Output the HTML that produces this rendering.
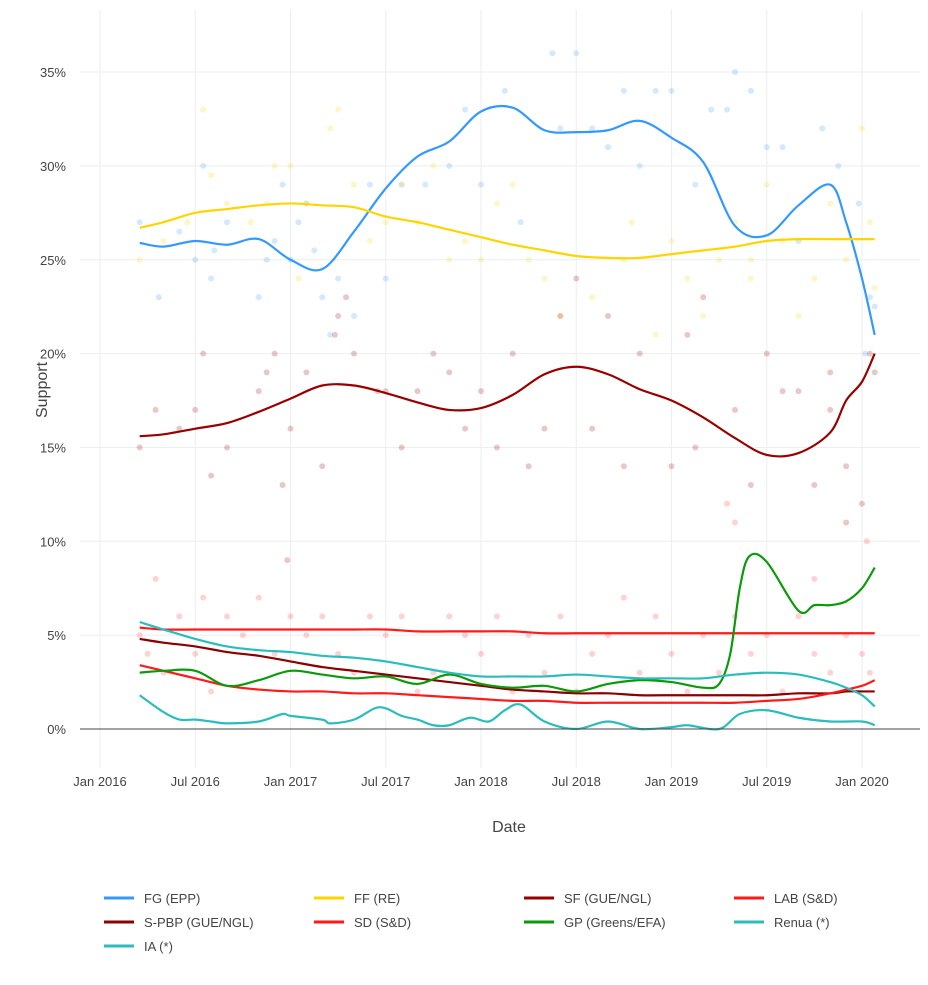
<!DOCTYPE html>
<html><head><meta charset="utf-8"><style>
body{margin:0;background:#fff;font-family:"Liberation Sans",sans-serif;}
svg text{font-family:"Liberation Sans",sans-serif;fill:#444;}
</style></head><body>
<svg id="chart" width="928" height="980" viewBox="0 0 928 980" xmlns="http://www.w3.org/2000/svg">
<g id="grid"></g>
<g id="dots"></g>
<g id="lines"></g>
<g id="axes"></g>
<g id="legend"></g>
</svg>
<script>
// months since Jan 2016
const months = [2.5,4,6,8,10,12,14,16,18,20,22,24,26,28,30,32,34,36,38,40,42,44,46,47,48,48.8];
const fgVals = [25.9,25.7,26,25.8,26.1,25.0,24.5,26.5,28.8,30.5,31.3,32.9,33.1,31.9,31.8,31.9,32.4,31.5,30.2,26.8,26.3,27.9,29,27,24,21];
const ffVals = [26.7,27,27.5,27.7,27.9,28,27.9,27.8,27.3,27,26.6,26.2,25.8,25.5,25.2,25.1,25.1,25.3,25.5,25.7,26,26.1,26.1,26.1,26.1,26.1];
const sfVals = [15.6,15.7,16,16.3,16.9,17.6,18.3,18.3,17.9,17.4,17,17.1,17.8,18.9,19.3,18.9,18.1,17.5,16.6,15.5,14.6,14.7,15.8,17.5,18.5,20];
const labVals = [5.4,5.3,5.3,5.3,5.3,5.3,5.3,5.3,5.3,5.2,5.2,5.2,5.2,5.1,5.1,5.1,5.1,5.1,5.1,5.1,5.1,5.1,5.1,5.1,5.1,5.1];
const spbpVals = [4.8,4.6,4.4,4.1,3.9,3.6,3.3,3.1,2.9,2.7,2.5,2.3,2.1,2,1.9,1.9,1.8,1.8,1.8,1.8,1.8,1.9,1.9,2,2,2];
const sdVals = [3.4,3.1,2.7,2.3,2.1,2,2,1.9,1.9,1.8,1.7,1.6,1.5,1.5,1.4,1.4,1.4,1.4,1.4,1.4,1.5,1.6,1.9,2.1,2.3,2.6];
const renuaVals = [5.7,5.3,4.8,4.4,4.2,4.1,3.9,3.8,3.6,3.3,3,2.8,2.8,2.8,2.9,2.8,2.7,2.7,2.7,2.9,3,2.9,2.5,2.2,1.8,1.2];
const gpMonths = [2.5,4,6,8,10,12,14,16,18,20,22,24,26,28,30,32,34,36,38,39,39.7,40.3,40.9,42,44,45,46,47,48,48.8];
const gpVals = [3,3.1,3.1,2.3,2.6,3.1,2.9,2.7,2.8,2.4,2.9,2.4,2.2,2.3,2,2.4,2.6,2.5,2.2,2.4,4,7.5,9.2,8.9,6.3,6.6,6.6,6.8,7.5,8.6];
const iaMonths = [2.5,4,5,6,7,8,10,11.5,12,14,14.5,16,17.3,18,19,20,21,22,23.3,24.5,25.5,26.5,28,30,32,34,36,37,39,40.3,42,44,46,48,48.8];
const iaVals = [1.8,0.9,0.5,0.5,0.4,0.3,0.4,0.8,0.7,0.5,0.3,0.5,1.1,1.1,0.7,0.5,0.2,0.2,0.6,0.4,1,1.3,0.4,0,0.4,0,0.1,0.2,0,0.8,1,0.6,0.4,0.4,0.2];
// poll points [month, value]
const fgPolls = [[2.5,27],[3.7,23],[5,26.5],[6,25],[6.5,30],[7,24],[7.2,25.5],[8,27],[10,23],[10.5,25],[11,26],[11.5,29],[12,25],[12.5,27],[13,28],[13.5,25.5],[14,23],[14.5,21],[15,24],[16,22],[17,29],[18,24],[19,29],[20.5,29],[22,30],[23,33],[24,29],[25.5,34],[26.5,27],[28.5,36],[29,32],[30,36],[31,32],[32,31],[33,34],[34,30],[35,34],[37.5,29],[38.5,33],[39.5,33],[40,35],[41,34],[42,31],[43,31],[45.5,32],[46.5,30],[47.8,28],[48.2,20],[48.5,23],[48.8,22.5],[44,26],[36,34]];
const ffPolls = [[2.5,25],[4,26],[5.5,27],[6.5,33],[7,29.5],[8,28],[9.5,27],[10.5,28],[11,30],[12,30],[12.5,24],[13,28],[14.5,32],[15,33],[16,29],[17,26],[18,27],[19,29],[20,27],[21,30],[22,25],[23,26],[24,25],[25,28],[26,29],[27,25],[28,24],[29,22],[31,23],[33,25],[35,21],[36,26],[37,24],[38,22],[39,25],[40,27],[41,25],[42,29],[43,26],[44,22],[45,24],[46,28],[47,25],[48,32],[48.5,27],[48.8,23.5],[33.5,27],[41,24]];
const sfPolls = [[2.5,15],[3.5,17],[5,16],[6,17],[6.5,20],[7,13.5],[8,15],[10,18],[10.5,19],[11,20],[11.5,13],[11.8,9],[12,16],[13,19],[14,14],[14.8,21],[15,22],[15.5,23],[16,20],[17.5,18],[18,18],[19,15],[20,18],[21,20],[22,19],[23,16],[24,18],[25,15],[26,20],[27,14],[28,16],[29,22],[30,24],[31,16],[32,22],[33,14],[34,20],[36,14],[37,21],[37.5,15],[38,23],[40,17],[41,13],[42,20],[43,18],[44,18],[45,13],[46,19],[47,14],[48,12],[48.5,20],[48.8,19],[46,17],[47,11]];
const lowPolls = [[2.5,5],[3,4],[3.5,8],[4,3],[5,6],[6,4],[6.5,7],[7,2],[8,6],[9,5],[10,7],[11,4],[12,6],[13,5],[14,6],[15,4],[16,3],[17,6],[18,5],[19,6],[20,2],[21,3],[22,6],[23,5],[24,4],[25,6],[26,2],[27,5],[28,3],[29,6],[30,2],[31,4],[32,5],[33,7],[34,3],[35,6],[36,4],[37,2],[38,5],[39,3],[40,6],[41,4],[42,5],[43,2],[44,6],[45,4],[46,3],[47,5],[48,4],[48.5,3],[39.5,12],[40,11],[45,8],[48.3,10]];
const xTicks = [0,6,12,18,24,30,36,42,48];
const xTickLabels = ["Jan 2016","Jul 2016","Jan 2017","Jul 2017","Jan 2018","Jul 2018","Jan 2019","Jul 2019","Jan 2020"];
const yTicks = [0,5,10,15,20,25,30,35];

const NS="http://www.w3.org/2000/svg";
const X = m => 100 + m*15.875;
const Y = v => 729 - v*18.77;
function mk(tag, attrs, parent){const e=document.createElementNS(NS,tag);for(const k in attrs)e.setAttribute(k,attrs[k]);parent.appendChild(e);return e;}
const grid=document.getElementById('grid'),dots=document.getElementById('dots'),lines=document.getElementById('lines'),axes=document.getElementById('axes'),legend=document.getElementById('legend');

yTicks.forEach(v=>{
  if(v>0){const g=mk('line',{x1:80,x2:920,y1:Y(v),y2:Y(v),stroke:'#eee','stroke-width':1},grid);
  
  }
  const t=mk('text',{x:66,y:Y(v)+5,'text-anchor':'end','font-size':13},axes);
  
  
  t.textContent=v+'%';
});
xTicks.forEach((m,i)=>{
  const g=mk('line',{x1:X(m),x2:X(m),y1:10,y2:768,stroke:'#eee','stroke-width':1},grid);
  
  
  const t=mk('text',{x:X(m),y:786,'text-anchor':'middle','font-size':13},axes);
  
  
  t.textContent=xTickLabels[i];
});
const zl=mk('line',{x1:80,x2:920,y1:Y(0),y2:Y(0),stroke:'#444','stroke-width':1},axes);


const yt=mk('text',{x:0,y:0,'font-size':16,'text-anchor':'middle',transform:'translate(47,390) rotate(-90)'},axes);


yt.textContent='Support';
const xt=mk('text',{x:509,y:832,'font-size':16,'text-anchor':'middle'},axes);


xt.textContent='Date';

function drawDots(arr,color){arr.forEach(p=>{
  const c=mk('circle',{cx:X(p[0]),cy:Y(p[1]),r:3,fill:color,'fill-opacity':0.22},dots);
  
  
});}
drawDots(fgPolls,'#3399ff');
drawDots(ffPolls,'#ffd500');
drawDots(sfPolls,'#a00000');
drawDots(lowPolls,'#ff3333');

function smooth(xs,ys){
  const p=xs.map((m,i)=>[X(m),Y(ys[i])]);
  let d='M'+p[0][0]+','+p[0][1];
  for(let i=0;i<p.length-1;i++){
    const p0=p[i-1]||p[i],p1=p[i],p2=p[i+1],p3=p[i+2]||p2;
    const c1x=p1[0]+(p2[0]-p0[0])/6,c1y=p1[1]+(p2[1]-p0[1])/6;
    const c2x=p2[0]-(p3[0]-p1[0])/6,c2y=p2[1]-(p3[1]-p1[1])/6;
    d+=' C'+c1x+','+c1y+' '+c2x+','+c2y+' '+p2[0]+','+p2[1];
  }
  return d;
}
const series=[
 ['FG (EPP)','#3399ff',months,fgVals,'fg-line'],
 ['FF (RE)','#ffd500',months,ffVals,'ff-line'],
 ['SF (GUE/NGL)','#990000',months,sfVals,'sf-line'],
 ['LAB (S&D)','#ff1a1a',months,labVals,'lab-line'],
 ['S-PBP (GUE/NGL)','#8b0000',months,spbpVals,'spbp-line'],
 ['SD (S&D)','#ff1a1a',months,sdVals,'sd-line'],
 ['GP (Greens/EFA)','#0a9a0a',gpMonths,gpVals,'gp-line'],
 ['Renua (*)','#2bbcbc',months,renuaVals,'renua-line'],
 ['IA (*)','#2bbcbc',iaMonths,iaVals,'ia-line']
];
series.forEach(s=>{
  const l=mk('path',{d:smooth(s[2],s[3]),fill:'none',stroke:s[1],'stroke-width':2.2},lines);
  
  
});
const colX=[104,314,524,734], rowY=[898,922,946];
series.forEach((s,i)=>{
  const cx=colX[i%4], cy=rowY[Math.floor(i/4)];
  const g=mk('g',{},legend);
  
  
  mk('line',{x1:cx,x2:cx+30,y1:cy,y2:cy,stroke:s[1],'stroke-width':3},g);
  const t=mk('text',{x:cx+40,y:cy+5,'font-size':13},g);
  t.textContent=s[0];
});
</script>
</body></html>
